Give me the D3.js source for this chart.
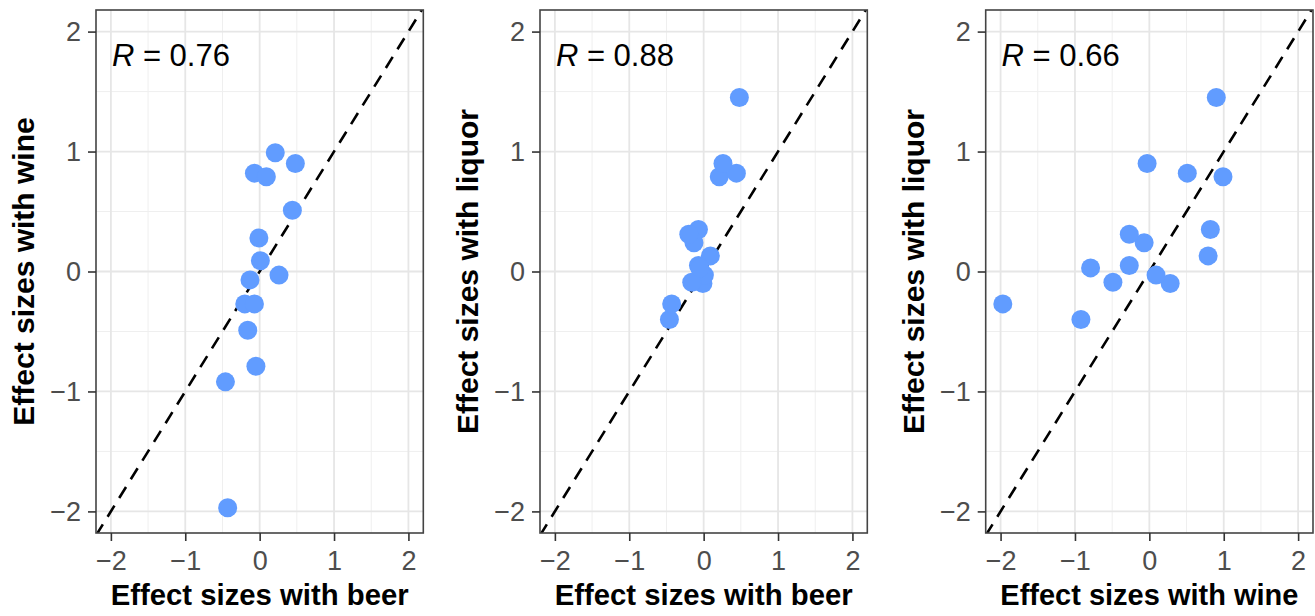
<!DOCTYPE html>
<html>
<head>
<meta charset="utf-8">
<script src="https://cdn.jsdelivr.net/npm/d3@7"></script>
<style>
  html, body { margin: 0; padding: 0; background: #fff; }
  svg { display: block; }
  text { font-family: "Liberation Sans", Arial, Helvetica, sans-serif; }
</style>
</head>
<body>
<svg id="chart" width="1315" height="616"></svg>
<script>
// ---- data ----
const beer   = [0.21, 0.48, -0.07, 0.09, 0.44, -0.01, 0.01, 0.26, -0.13, -0.20, -0.07, -0.16, -0.05, -0.46, -0.43];
const wine   = [0.99, 0.90, 0.82, 0.79, 0.51, 0.28, 0.09, -0.03, -0.07, -0.27, -0.27, -0.49, -0.79, -0.92, -1.97];
const liquor = [0.79, 1.45, 0.35, 0.13, 0.82, -0.10, -0.03, 0.90, 0.24, 0.31, 0.05, -0.09, 0.03, -0.40, -0.27];
const rValues = ["0.76", "0.88", "0.66"];
const xTitles = ["Effect sizes with beer", "Effect sizes with beer", "Effect sizes with wine"];
const yTitles = ["Effect sizes with wine", "Effect sizes with liquor", "Effect sizes with liquor"];
const majorTicks = [-2, -1, 0, 1, 2];
const minorTicks = [-1.5, -0.5, 0.5, 1.5];
const tickLabels = ["\u22122", "\u22121", "0", "1", "2"];

const pairs = [[beer, wine], [beer, liquor], [wine, liquor]];

// ---- layout ----
const panelLefts = [96, 540, 985.7];
const panelW = 327.3;
const plotTop = 10, plotBottom = 533;
const svg = d3.select("#chart");

pairs.forEach((pair, i) => {
  const L = panelLefts[i], R = L + panelW;
  const x = d3.scaleLinear().domain([-2.2, 2.2]).range([L, R]);
  const y = d3.scaleLinear().domain([-2.18, 2.18]).range([plotBottom, plotTop]);
  const g = svg.append("g");

  const clipId = "clip" + i;
  svg.append("clipPath").attr("id", clipId)
    .append("rect").attr("x", L).attr("y", plotTop).attr("width", panelW).attr("height", plotBottom - plotTop);

  // minor grid
  g.selectAll(".mgx").data(minorTicks).join("line")
    .attr("x1", d => x(d)).attr("x2", d => x(d)).attr("y1", plotTop).attr("y2", plotBottom)
    .attr("stroke", "#EFEFEF").attr("stroke-width", 1);
  g.selectAll(".mgy").data(minorTicks).join("line")
    .attr("y1", d => y(d)).attr("y2", d => y(d)).attr("x1", L).attr("x2", R)
    .attr("stroke", "#EFEFEF").attr("stroke-width", 1);
  // major grid
  g.selectAll(".Mgx").data(majorTicks).join("line")
    .attr("x1", d => x(d)).attr("x2", d => x(d)).attr("y1", plotTop).attr("y2", plotBottom)
    .attr("stroke", "#E6E6E6").attr("stroke-width", 1.8);
  g.selectAll(".Mgy").data(majorTicks).join("line")
    .attr("y1", d => y(d)).attr("y2", d => y(d)).attr("x1", L).attr("x2", R)
    .attr("stroke", "#E6E6E6").attr("stroke-width", 1.8);

  // identity dashed line
  g.append("line").attr("clip-path", `url(#${clipId})`)
    .attr("x1", x(-2.2)).attr("y1", y(-2.2)).attr("x2", x(2.2)).attr("y2", y(2.2))
    .attr("stroke", "#000").attr("stroke-width", 2.6).attr("stroke-dasharray", "13,9");

  // points
  const pts = pair[0].map((v, k) => [v, pair[1][k]]);
  g.selectAll("circle").data(pts).join("circle")
    .attr("cx", d => x(d[0])).attr("cy", d => y(d[1])).attr("r", 9.5)
    .attr("fill", "#619CFF");

  // border
  g.append("rect").attr("x", L).attr("y", plotTop).attr("width", panelW).attr("height", plotBottom - plotTop)
    .attr("fill", "none").attr("stroke", "#444").attr("stroke-width", 1.6);

  // axes via d3
  const xAxis = d3.axisBottom(x).tickValues(majorTicks).tickSize(8).tickPadding(10)
    .tickFormat((d, k) => tickLabels[k]);
  const yAxis = d3.axisLeft(y).tickValues(majorTicks).tickSize(8).tickPadding(7)
    .tickFormat((d, k) => tickLabels[k]);
  const ax = svg.append("g").attr("transform", `translate(0,${plotBottom})`).call(xAxis);
  const ay = svg.append("g").attr("transform", `translate(${L},0)`).call(yAxis);
  [ax, ay].forEach(a => {
    a.select(".domain").remove();
    a.selectAll(".tick line").attr("stroke", "#333").attr("stroke-width", 1.6);
    a.selectAll(".tick text").attr("fill", "#4D4D4D").style("font-size", "27px");
  });

  // R label
  const rt = g.append("text").attr("x", x(-2) + 1).attr("y", y(1.71))
    .attr("fill", "#000").style("font-size", "31px");
  rt.append("tspan").style("font-style", "italic").text("R");
  rt.append("tspan").text(" = " + rValues[i]);

  // axis titles
  svg.append("text").attr("x", (L + R) / 2).attr("y", 605)
    .attr("text-anchor", "middle").style("font-size", "30px").style("font-weight", "bold")
    .attr("textLength", 298).attr("lengthAdjust", "spacingAndGlyphs")
    .attr("fill", "#000").text(xTitles[i]);
  svg.append("text")
    .attr("transform", `translate(${L - 62},${(plotTop + plotBottom) / 2}) rotate(-90)`)
    .attr("text-anchor", "middle").style("font-size", "30px").style("font-weight", "bold")
    .attr("fill", "#000").text(yTitles[i]);
});
</script>
</body>
</html>
